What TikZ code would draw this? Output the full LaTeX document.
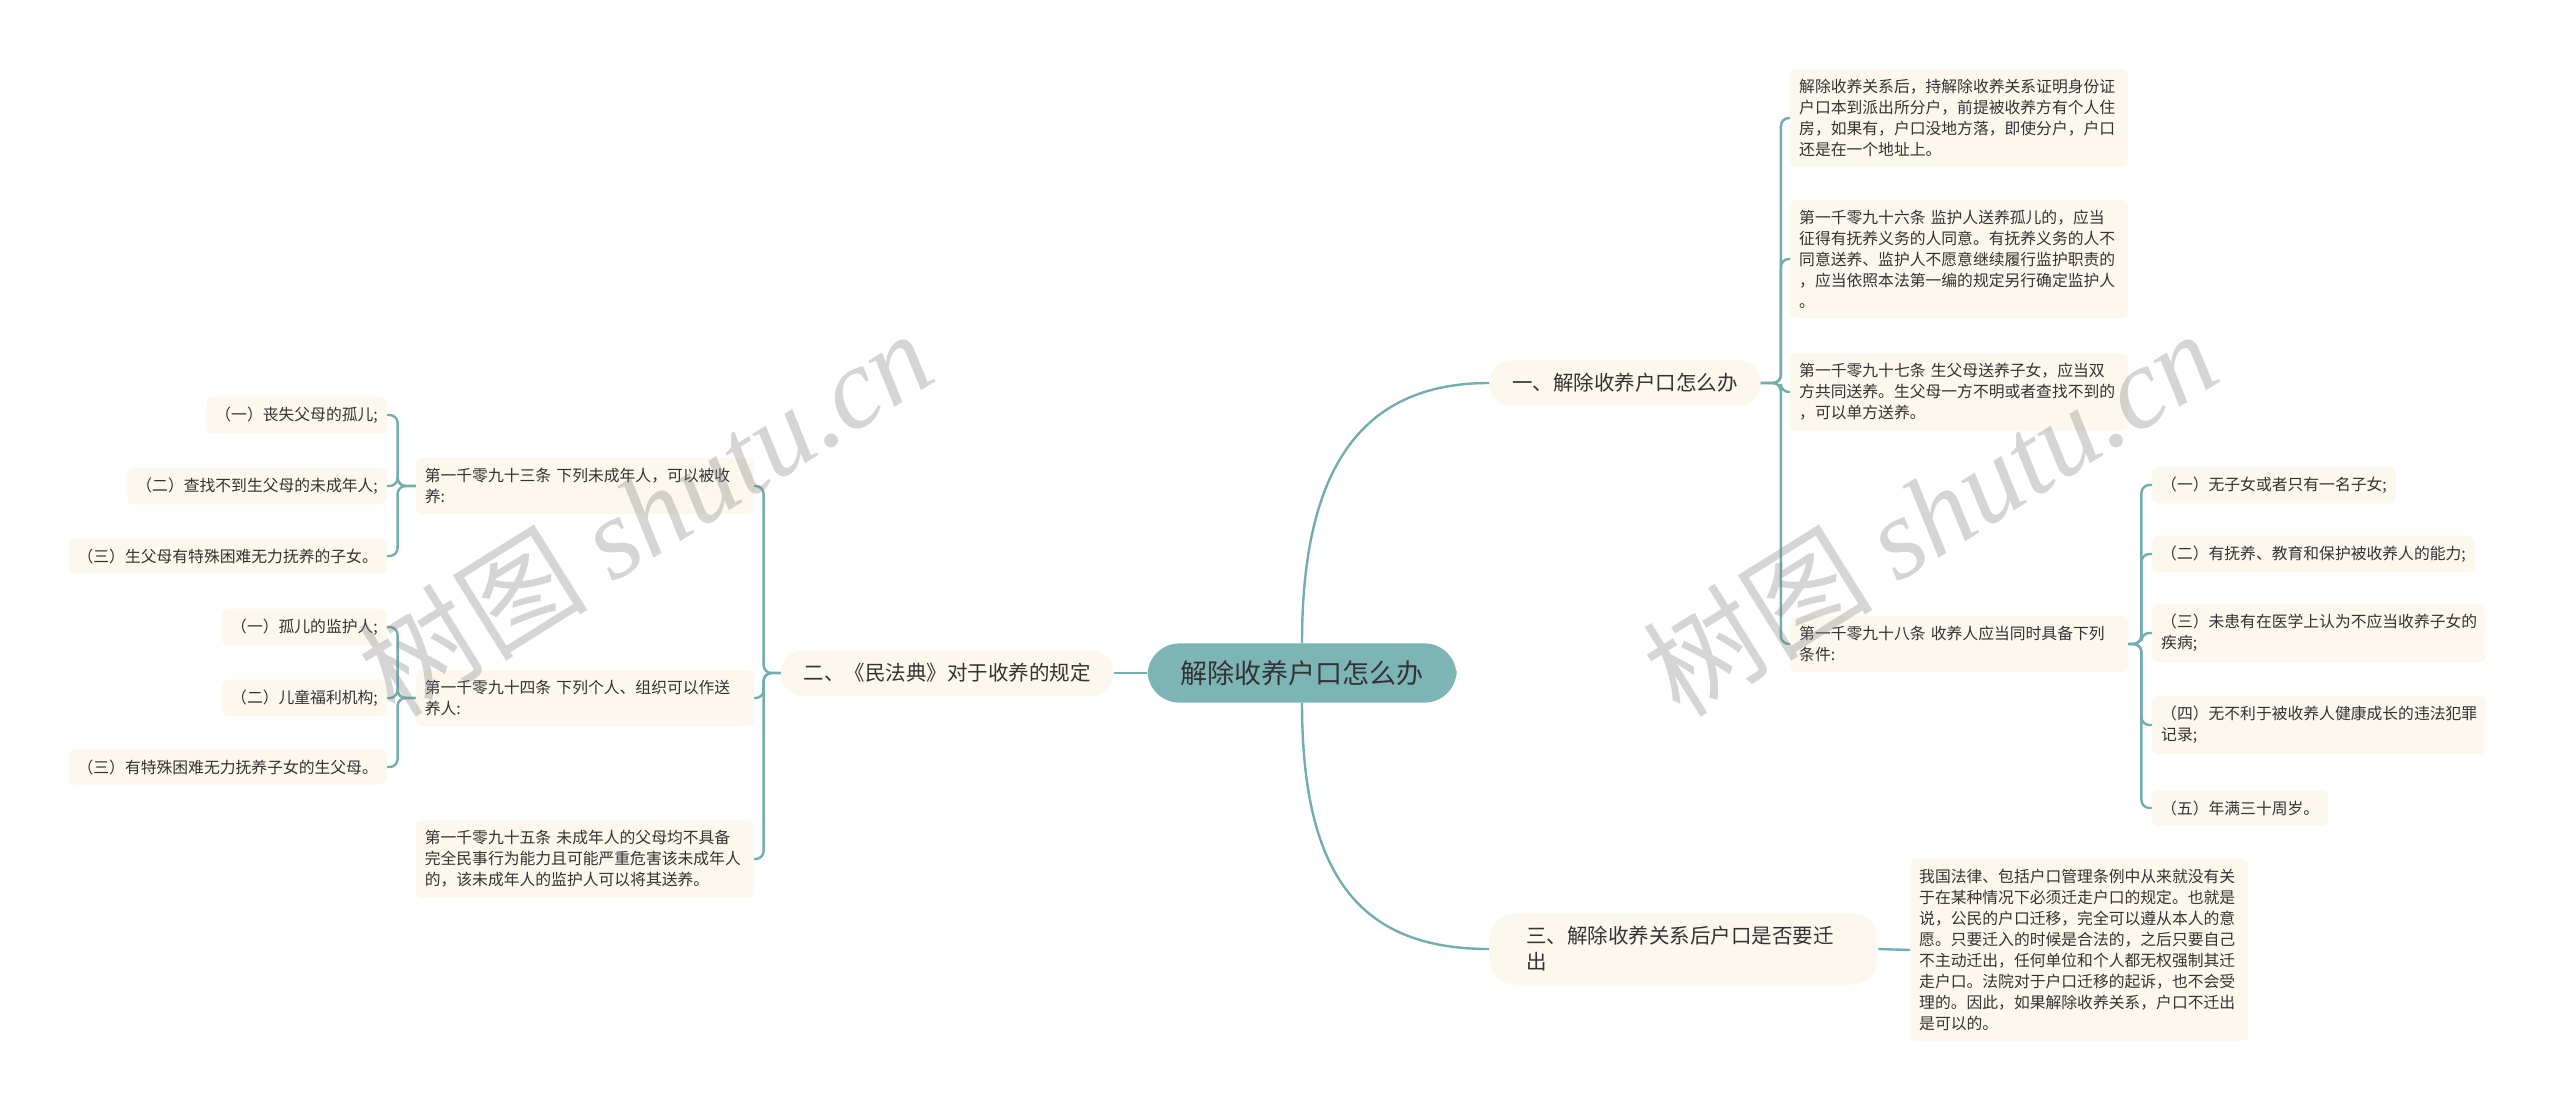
\documentclass[tikz,border=0pt]{standalone}
\usepackage{fontspec}
\setmainfont{Noto Sans CJK SC}
\newfontfamily\wmfont{Liberation Serif}
\definecolor{tealline}{HTML}{74ADAF}
\definecolor{rootfill}{HTML}{7DB5B7}
\definecolor{cream}{HTML}{FCF8EE}
\definecolor{ink}{HTML}{333333}

\begin{document}
\begin{tikzpicture}[x=1pt,y=-1pt,
  link/.style={draw=tealline,line width=2.4pt,rounded corners=8pt},
  leaf/.style={fill=cream,rounded corners=6pt,text=ink,font=\fontsize{15.8}{21}\selectfont,inner xsep=9pt,inner ysep=10pt,align=left},
  note/.style={leaf,text width=320pt},
  topic/.style={fill=cream,rounded corners=22pt,text=ink,font=\fontsize{20.5}{26}\selectfont,inner xsep=23pt,inner ysep=13pt,align=left},
  wmtext/.style={text=gray,opacity=0.33,rotate=32,font=\fontsize{115}{115}\selectfont}]
\useasboundingbox[fill=white] (0,0) rectangle (2560,1109);

\node[fill=rootfill,rounded corners=32pt,text=ink,font=\fontsize{27}{32}\selectfont,inner xsep=33pt,inner ysep=17pt] (root) at (1302,673) {解除收养户口怎么办};

\node[topic,anchor=west] (t1) at (1489,383) {一、解除收养户口怎么办};
\node[topic,anchor=east] (t2) at (1114,673) {二、《民法典》对于收养的规定};
\node[topic,anchor=west,text width=315pt,inner xsep=37pt,rounded corners=26pt] (t3) at (1489,949) {三、解除收养关系后户口是否要迁\\出};

\node[note,anchor=west] (n1) at (1790,118) {解除收养关系后，持解除收养关系证明身份证\\户口本到派出所分户，前提被收养方有个人住\\房，如果有，户口没地方落，即使分户，户口\\还是在一个地址上。};
\node[note,anchor=west] (n2) at (1790,259) {第一千零九十六条 监护人送养孤儿的，应当\\征得有抚养义务的人同意。有抚养义务的人不\\同意送养、监护人不愿意继续履行监护职责的\\，应当依照本法第一编的规定另行确定监护人\\。};
\node[note,anchor=west] (n3) at (1790,392) {第一千零九十七条 生父母送养子女，应当双\\方共同送养。生父母一方不明或者查找不到的\\，可以单方送养。};
\node[note,anchor=west] (n4) at (1790,644) {第一千零九十八条 收养人应当同时具备下列\\条件:};

\node[leaf,anchor=west] (c1) at (2152,485) {（一）无子女或者只有一名子女;};
\node[leaf,anchor=west] (c2) at (2152,554) {（二）有抚养、教育和保护被收养人的能力;};
\node[leaf,anchor=west] (c3) at (2152,633) {（三）未患有在医学上认为不应当收养子女的\\疾病;};
\node[leaf,anchor=west] (c4) at (2152,725) {（四）无不利于被收养人健康成长的违法犯罪\\记录;};
\node[leaf,anchor=west] (c5) at (2152,808) {（五）年满三十周岁。};

\node[note,anchor=west] (n5) at (1910,950) {我国法律、包括户口管理条例中从来就没有关\\于在某种情况下必须迁走户口的规定。也就是\\说，公民的户口迁移，完全可以遵从本人的意\\愿。只要迁入的时候是合法的，之后只要自己\\不主动迁出，任何单位和个人都无权强制其迁\\走户口。法院对于户口迁移的起诉，也不会受\\理的。因此，如果解除收养关系，户口不迁出\\是可以的。};

\node[note,anchor=east] (m1) at (754,486) {第一千零九十三条 下列未成年人，可以被收\\养:};
\node[note,anchor=east] (m2) at (754,698) {第一千零九十四条 下列个人、组织可以作送\\养人:};
\node[note,anchor=east] (m3) at (754,859) {第一千零九十五条 未成年人的父母均不具备\\完全民事行为能力且可能严重危害该未成年人\\的，该未成年人的监护人可以将其送养。};

\node[leaf,anchor=east] (a1) at (387,415) {（一）丧失父母的孤儿;};
\node[leaf,anchor=east] (a2) at (387,486) {（二）查找不到生父母的未成年人;};
\node[leaf,anchor=east] (a3) at (387,556) {（三）生父母有特殊困难无力抚养的子女。};
\node[leaf,anchor=east] (b1) at (387,627) {（一）孤儿的监护人;};
\node[leaf,anchor=east] (b2) at (387,698) {（二）儿童福利机构;};
\node[leaf,anchor=east] (b3) at (387,767) {（三）有特殊困难无力抚养子女的生父母。};

\draw[link] (root.north) .. controls (1302,470) and (1360,383) .. (t1.west);
\draw[link] (root.south) .. controls (1302,876) and (1360,949) .. (t3.west);
\draw[link] (root.west) -- (t2.east);
\draw[link] (t3.east) -- (n5.west);
\foreach \n in {n1,n2,n3,n4} \draw[link] (t1.east) -- ++(20,0) |- (\n.west);
\foreach \n in {c1,c2,c3,c4,c5} \draw[link] (n4.east) -- ++(13,0) |- (\n.west);
\foreach \n in {m1,m2,m3} \draw[link] (t2.west) -- ++(-17,0) |- (\n.east);
\foreach \n in {a1,a2,a3} \draw[link] (m1.west) -- ++(-18,0) |- (\n.east);
\foreach \n in {b1,b2,b3} \draw[link] (m2.west) -- ++(-18,0) |- (\n.east);

\node[wmtext] (w1) at (645,512) {树图 {\wmfont\itshape shutu.cn}};
\node[wmtext] (w2) at (1930,512) {树图 {\wmfont\itshape shutu.cn}};
\end{tikzpicture}
\end{document}
